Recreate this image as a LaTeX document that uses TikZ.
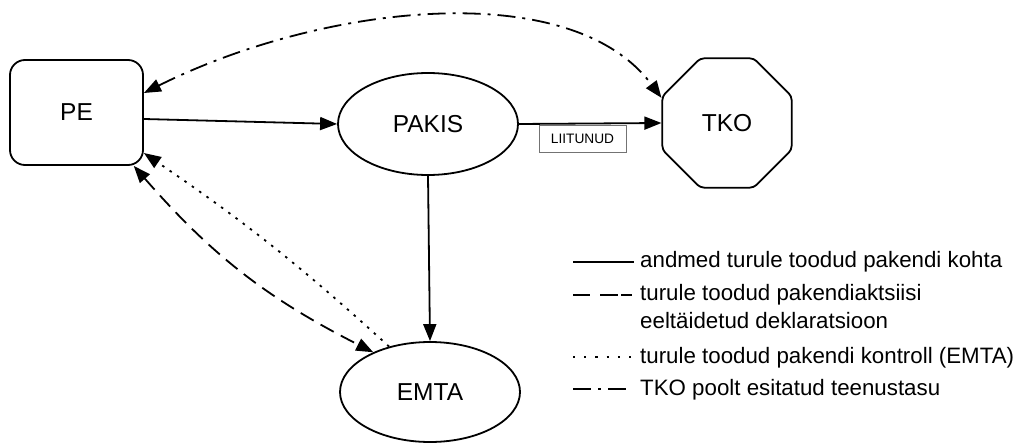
\documentclass[tikz,border=0pt]{standalone}
\usepackage{fontspec}
\setmainfont{Liberation Sans}
\usetikzlibrary{shapes.geometric, arrows.meta}
\begin{document}
\begin{tikzpicture}[x=1pt,y=-1pt,
  tip/.style={-{Triangle[length=17pt,width=13pt]}},
  tips/.style={{Triangle[length=17pt,width=13pt]}-{Triangle[length=17pt,width=13pt]}},
  ln/.style={line width=1.8pt},
  dashln/.style={ln, dash pattern=on 15pt off 8pt},
  dotln/.style={ln, dash pattern=on 2.5pt off 6.5pt},
  dashdotln/.style={ln, dash pattern=on 18pt off 7pt on 3pt off 7pt},
  lbl/.style={font=\fontsize{24.5}{29}\selectfont},
  legtext/.style={anchor=base west, inner sep=0pt, font=\fontsize{22.3}{28}\selectfont},
  oval/.style={ellipse, draw, ln, inner sep=0pt, minimum width=180pt, minimum height=102pt, lbl},
]
\useasboundingbox (0,0) rectangle (1016,443);

\node[draw, ln, rounded corners=15pt, minimum width=133pt, minimum height=105pt, inner sep=0pt, lbl] (PE) at (76.5,112.5) {PE};
\node[oval] (PAKIS) at (428,124) {PAKIS};
\node[oval, minimum height=100pt] (EMTA) at (430,392) {EMTA};
\node[regular polygon, regular polygon sides=8, draw, ln, rounded corners=4pt, minimum size=140pt, inner sep=0pt, lbl] (TKO) at (727,123) {TKO};
\node[draw=black!55, line width=0.8pt, minimum width=87pt, minimum height=27pt, inner sep=0pt, font=\fontsize{13.7}{16}\selectfont] (LIIT) at (582.5,138.5) {LIITUNUD};

% connectors
\draw[ln, tip] ([yshift=-6.5pt]PE.east) -- (PAKIS.west);
\draw[ln, tip] (PAKIS.east) -- (TKO.west);
\draw[ln, tip] (PAKIS.south) -- (EMTA.north);
\draw[dashln, tips] (PE.-43) to[bend right=11] (EMTA.145);
\draw[dotln, tip] (EMTA.132) to[bend right=4] (PE.-31);
\draw[dashdotln, tips] ([yshift=19.5pt]PE.east) .. controls (320,5) and (570,-25) .. (TKO.159);

% legend
\node[legtext] (t1) at (640,268) {andmed turule toodud pakendi kohta};
\node[legtext] (t2a) at (640,301) {turule toodud pakendiaktsiisi};
\node[legtext] (t2b) at (640,328) {eeltäidetud deklaratsioon};
\node[legtext] (t3) at (640,363) {turule toodud pakendi kontroll (EMTA)};
\node[legtext] (t4) at (640,395) {TKO poolt esitatud teenustasu};

\draw[ln] ([shift={(-67pt,6pt)}]t1.base west) -- ([shift={(-6pt,6pt)}]t1.base west);
\draw[ln, dash pattern=on 17pt off 10pt on 18pt off 3pt on 12pt off 10pt] ([shift={(-67pt,6pt)}]t2a.base west) -- ([shift={(-8pt,6pt)}]t2a.base west);
\draw[ln, dash pattern=on 2.2pt off 9pt] ([shift={(-67pt,6pt)}]t3.base west) -- ([shift={(-8pt,6pt)}]t3.base west);
\draw[ln, dash pattern=on 18pt off 7pt on 3pt off 7pt] ([shift={(-67pt,6pt)}]t4.base west) -- ([shift={(-14pt,6pt)}]t4.base west);
\end{tikzpicture}
\end{document}
